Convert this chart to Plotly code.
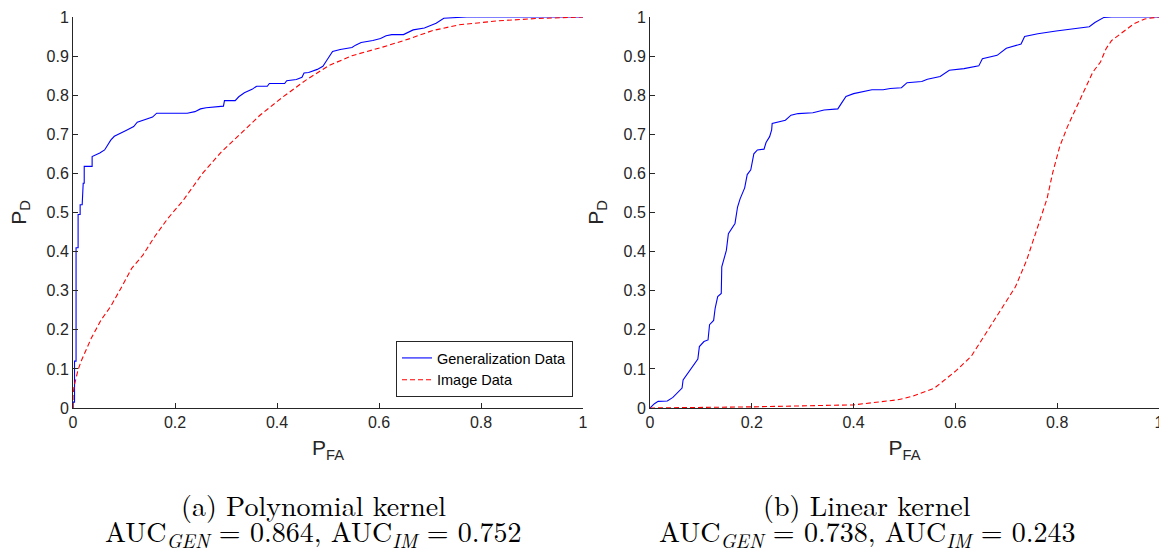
import plotly.graph_objects as go

# ---------------- data ----------------
# (a) Polynomial kernel
poly_gen_x = [0, 0, 0.003, 0.003, 0.006, 0.006, 0.010, 0.010, 0.014, 0.014, 0.018, 0.020, 0.022, 0.022,
              0.0375, 0.0375, 0.0525, 0.062, 0.074, 0.081, 0.104, 0.119, 0.126, 0.141, 0.156, 0.164,
              0.224, 0.239, 0.250, 0.261, 0.295, 0.297, 0.318, 0.325, 0.336, 0.351, 0.360, 0.381,
              0.385, 0.415, 0.419, 0.438, 0.449, 0.453, 0.462, 0.479, 0.490, 0.498, 0.509, 0.524,
              0.547, 0.554, 0.565, 0.588, 0.603, 0.614, 0.625, 0.648, 0.655, 0.667, 0.689, 0.700,
              0.712, 0.727, 0.772, 1.0]
poly_gen_y = [0, 0.015, 0.015, 0.12, 0.12, 0.41, 0.41, 0.495, 0.495, 0.52, 0.52, 0.575, 0.575, 0.618,
              0.618, 0.643, 0.652, 0.660, 0.685, 0.695, 0.710, 0.720, 0.731, 0.738, 0.744, 0.754,
              0.754, 0.758, 0.765, 0.768, 0.772, 0.786, 0.786, 0.796, 0.806, 0.815, 0.823, 0.823,
              0.830, 0.830, 0.837, 0.840, 0.846, 0.857, 0.858, 0.866, 0.874, 0.890, 0.912, 0.917,
              0.922, 0.928, 0.935, 0.940, 0.945, 0.952, 0.955, 0.955, 0.960, 0.967, 0.972, 0.978,
              0.984, 0.997, 1.0, 1.0]
poly_im_x = [0, 0, 0.002, 0.010, 0.017, 0.036, 0.055, 0.074, 0.096, 0.115, 0.137, 0.160, 0.186, 0.216,
             0.254, 0.291, 0.329, 0.366, 0.411, 0.456, 0.502, 0.547, 0.607, 0.659, 0.704, 0.757,
             0.832, 0.907, 1.0]
poly_im_y = [0, 0.03, 0.055, 0.098, 0.123, 0.179, 0.225, 0.260, 0.311, 0.357, 0.391, 0.438, 0.485, 0.531,
             0.600, 0.655, 0.702, 0.748, 0.795, 0.838, 0.876, 0.901, 0.923, 0.944, 0.965, 0.980,
             0.990, 0.996, 1.0]

# (b) Linear kernel
lin_gen_x = [0, 0.0087, 0.016, 0.034, 0.045, 0.063, 0.065, 0.077, 0.085, 0.094, 0.097, 0.106, 0.114,
             0.117, 0.125, 0.128, 0.133, 0.140, 0.141, 0.150, 0.154, 0.167, 0.172, 0.177, 0.186,
             0.191, 0.198, 0.204, 0.211, 0.224, 0.228, 0.235, 0.239, 0.240, 0.266, 0.277, 0.291,
             0.320, 0.342, 0.369, 0.376, 0.385, 0.400, 0.436, 0.458, 0.472, 0.494, 0.505, 0.534,
             0.545, 0.570, 0.588, 0.617, 0.646, 0.653, 0.682, 0.700, 0.729, 0.736, 0.762, 0.798,
             0.841, 0.863, 0.874, 0.892, 0.907, 1.0]
lin_gen_y = [0, 0.011, 0.017, 0.018, 0.027, 0.051, 0.072, 0.094, 0.111, 0.125, 0.157, 0.170, 0.174,
             0.213, 0.224, 0.255, 0.285, 0.293, 0.361, 0.403, 0.446, 0.472, 0.514, 0.535, 0.563,
             0.597, 0.609, 0.650, 0.660, 0.662, 0.679, 0.694, 0.711, 0.728, 0.736, 0.749, 0.753,
             0.755, 0.762, 0.765, 0.779, 0.797, 0.804, 0.814, 0.814, 0.817, 0.819, 0.832, 0.835,
             0.841, 0.848, 0.864, 0.868, 0.875, 0.893, 0.902, 0.920, 0.931, 0.950, 0.957, 0.964,
             0.972, 0.975, 0.986, 0.999, 1.0, 1.0]
lin_im_x = [0, 0.204, 0.400, 0.443, 0.487, 0.516, 0.559, 0.602, 0.631, 0.660, 0.689, 0.718, 0.740,
            0.755, 0.769, 0.780, 0.791, 0.805, 0.820, 0.838, 0.860, 0.870, 0.885, 0.896, 0.907,
            0.928, 0.950, 0.972, 0.993, 1.0]
lin_im_y = [0, 0.003, 0.008, 0.014, 0.021, 0.030, 0.051, 0.096, 0.132, 0.191, 0.251, 0.310, 0.378,
            0.438, 0.497, 0.535, 0.601, 0.669, 0.719, 0.770, 0.830, 0.859, 0.885, 0.919, 0.940,
            0.961, 0.982, 0.995, 0.999, 1.0]

legend_names = ["Generalization Data", "Image Data"]
caption_titles = ["(a) Polynomial kernel", "(b) Linear kernel"]
caption_aucs = [
    "AUC<sub><i>GEN</i></sub> = 0.864, AUC<sub><i>IM</i></sub> = 0.752",
    "AUC<sub><i>GEN</i></sub> = 0.738, AUC<sub><i>IM</i></sub> = 0.243",
]

# ---------------- figure ----------------
W, H = 1159, 554
BLUE = "#0000ff"
RED = "#ff0000"
AX = "#262626"
DASH = "5px,3px"

fig = go.Figure()
fig.add_trace(go.Scatter(x=poly_gen_x, y=poly_gen_y, mode="lines", name=legend_names[0],
                         line=dict(color=BLUE, width=1.1), xaxis="x", yaxis="y"))
fig.add_trace(go.Scatter(x=poly_im_x, y=poly_im_y, mode="lines", name=legend_names[1],
                         line=dict(color=RED, width=1.1, dash=DASH), xaxis="x", yaxis="y"))
fig.add_trace(go.Scatter(x=lin_gen_x, y=lin_gen_y, mode="lines", name=legend_names[0], showlegend=False,
                         line=dict(color=BLUE, width=1.1), xaxis="x2", yaxis="y2"))
fig.add_trace(go.Scatter(x=lin_im_x, y=lin_im_y, mode="lines", name=legend_names[1], showlegend=False,
                         line=dict(color=RED, width=1.1, dash=DASH), xaxis="x2", yaxis="y2"))

ydom = [(H - 408) / H, (H - 17) / H]
xdom1 = [73 / W, 583 / W]
xdom2 = [650 / W, 1.0]

FONT = "Liberation Sans, Arial, sans-serif"
tickfont = dict(family=FONT, size=16, color=AX)
titlefont = dict(family=FONT, size=21, color=AX)

def xaxis(dom, anchor):
    return dict(domain=dom, anchor=anchor, range=[0, 1], dtick=0.2, tick0=0,
                showline=True, linecolor=AX, linewidth=1, ticks="inside", ticklen=5,
                tickcolor=AX, tickfont=tickfont, showgrid=False, zeroline=False,
                automargin=False, fixedrange=True, ticklabeloverflow="allow",
                title=dict(text="P<sub>FA</sub>", font=titlefont, standoff=10))

def yaxis(anchor):
    return dict(domain=ydom, anchor=anchor, range=[0, 1], dtick=0.1, tick0=0,
                showline=True, linecolor=AX, linewidth=1, ticks="inside", ticklen=5,
                tickcolor=AX, tickfont=tickfont, showgrid=False, zeroline=False,
                automargin=False, fixedrange=True, ticklabeloverflow="allow",
                title=dict(text="P<sub>D</sub>", font=titlefont, standoff=14))

fig.update_layout(
    template="none",
    width=W, height=H,
    margin=dict(l=0, r=0, t=0, b=0),
    paper_bgcolor="white", plot_bgcolor="white",
    xaxis=xaxis(xdom1, "y"), yaxis=yaxis("x"),
    xaxis2=xaxis(xdom2, "y2"), yaxis2=yaxis("x2"),
    legend=dict(x=573 / W, y=(H - 397) / H, xanchor="right", yanchor="bottom",
                bgcolor="white", bordercolor=AX, borderwidth=1,
                font=dict(family=FONT, size=14.5, color="black"),
                tracegroupgap=0, itemwidth=30),
    showlegend=True,
)

capfont = dict(family="Latin Modern Roman, CMU Serif, serif", size=28, color="black")
for cx, t1, t2 in zip([313 / W, 867 / W], caption_titles, caption_aucs):
    fig.add_annotation(x=cx, y=(H - 504) / H, xref="paper", yref="paper", text=t1,
                       showarrow=False, xanchor="center", yanchor="middle", font=capfont)
    fig.add_annotation(x=cx, y=(H - 532) / H, xref="paper", yref="paper", text=t2,
                       showarrow=False, xanchor="center", yanchor="middle", font=capfont)

fig.write_html("out.html", config={"displayModeBar": False},
               post_script="document.body.style.margin='0';document.body.style.overflow='hidden';")
